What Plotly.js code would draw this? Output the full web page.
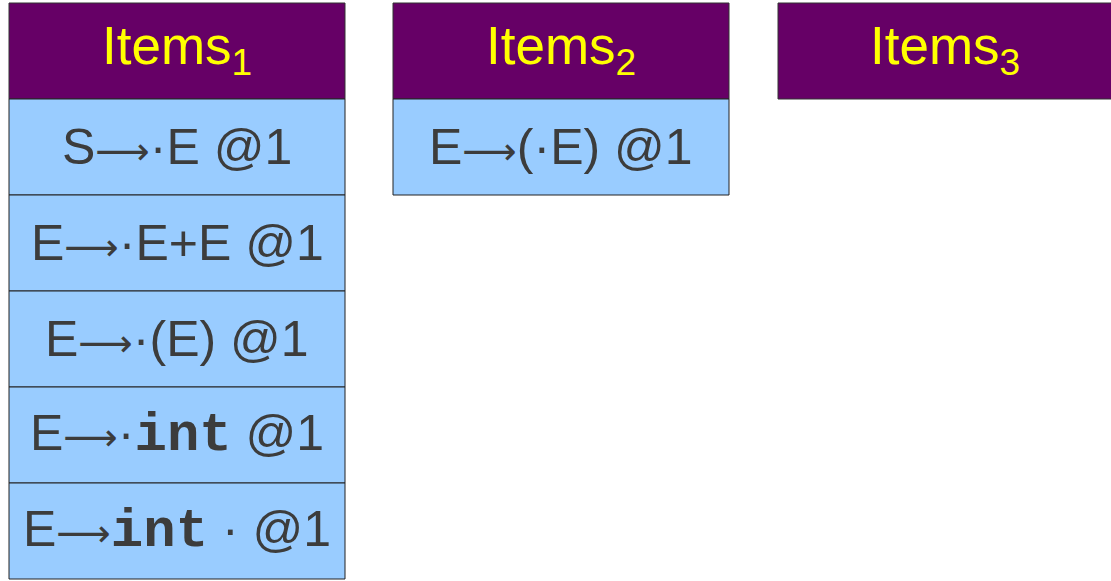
<!DOCTYPE html>
<html><head><meta charset="utf-8">
<script src="https://cdn.plot.ly/plotly-3.0.1.min.js"></script>
<style>html,body{margin:0;padding:0;background:#fff;}#chart{width:1111px;height:581px;}</style>
</head><body><div id="chart"></div>
<script>
// Data
const columnHeaders = ["Items<sub>1</sub>", "Items<sub>2</sub>", "Items<sub>3</sub>"];
const ARROW = "<span style=\"font-family:'DejaVu Sans';font-size:38px\">⟶</span>";
const INT = "<b><span style=\"font-family:'Liberation Mono',monospace;font-size:54px\">int</span></b>";
const items1 = ["S" + ARROW + "·E @1", "E" + ARROW + "·E+E @1", "E" + ARROW + "·(E) @1", "E" + ARROW + "·" + INT + " @1", "E" + ARROW + INT + " · @1"];
const items2 = ["E" + ARROW + "(·E) @1"];
const items3 = [];
const columnItems = [items1, items2, items3];

// Layout geometry (pixels, data coords == pixels)
const colX0 = [9, 393, 778];
const colW = [336, 336, 340];
const headerTop = 3, headerH = 96, rowH = 96;

const shapes = [], annotations = [];
columnHeaders.forEach((h, c) => {
  const x0 = colX0[c], x1 = x0 + colW[c];
  shapes.push({type:'rect', xref:'x', yref:'y', x0:x0, x1:x1, y0:headerTop, y1:headerTop+headerH,
    fillcolor:'#660066', line:{color:'#333333', width:1}, layer:'above'});
  annotations.push({xref:'x', yref:'y', x:(x0+Math.min(x1,1111))/2, y:headerTop+headerH/2 - 2, text:h, showarrow:false,
    font:{family:'Liberation Sans, Arial', size:53, color:'#ffff00'}, xanchor:'center', yanchor:'middle'});
  columnItems[c].forEach((t, r) => {
    const y0 = headerTop + headerH + r*rowH;
    shapes.push({type:'rect', xref:'x', yref:'y', x0:x0, x1:x1, y0:y0, y1:y0+rowH,
      fillcolor:'#99ccff', line:{color:'#222222', width:1}, layer:'above'});
    annotations.push({xref:'x', yref:'y', x:(x0+x1)/2, y:y0+rowH/2, text:t, showarrow:false,
      font:{family:'Liberation Sans, Arial', size:50, color:'#3c3c3c'}, xanchor:'center', yanchor:'middle'});
  });
});

Plotly.newPlot('chart', [{x:[0,1111], y:[0,581], mode:'markers', marker:{opacity:0}, hoverinfo:'skip', showlegend:false}], {
  width:1111, height:581, margin:{l:0,r:0,t:0,b:0},
  paper_bgcolor:'#ffffff', plot_bgcolor:'#ffffff',
  xaxis:{range:[0,1111], visible:false, fixedrange:true},
  yaxis:{range:[581,0], visible:false, fixedrange:true},
  shapes:shapes, annotations:annotations, showlegend:false
}, {staticPlot:true});
</script></body></html>
